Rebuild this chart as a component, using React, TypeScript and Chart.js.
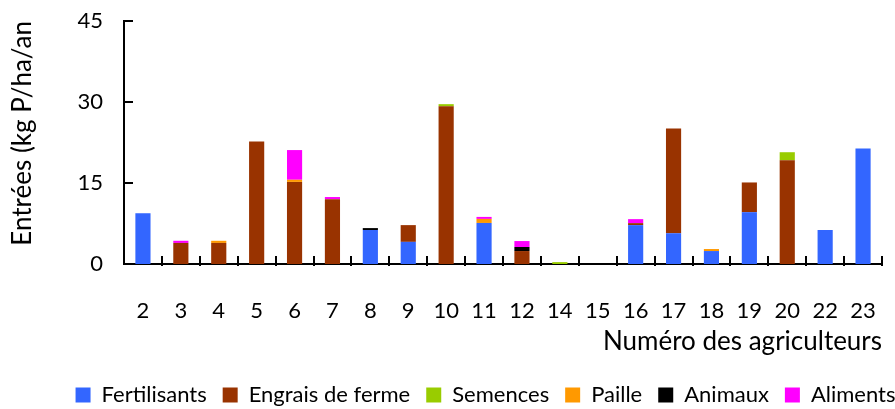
import React, { useEffect, useRef } from "react";
import { Chart, registerables } from "chart.js";

Chart.register(...registerables);

const categories = ["2", "3", "4", "5", "6", "7", "8", "9", "10", "11", "12", "14", "15", "16", "17", "18", "19", "20", "22", "23"];
const fertilisants = [9.4, 0, 0, 0, 0, 0, 6.3, 4.1, 0, 7.6, 0, 0, 0, 7.2, 5.7, 2.4, 9.6, 0, 6.3, 21.4];
const engrais = [0, 3.9, 3.9, 22.7, 15.2, 12.0, 0, 3.1, 29.2, 0, 2.4, 0, 0, 0.37, 19.4, 0, 5.5, 19.2, 0, 0];
const semences = [0, 0, 0, 0, 0, 0, 0, 0, 0.4, 0, 0, 0.35, 0, 0, 0, 0, 0, 1.5, 0, 0];
const paille = [0, 0, 0.4, 0, 0.4, 0, 0, 0, 0, 0.75, 0, 0, 0, 0, 0, 0.37, 0, 0, 0, 0];
const animaux = [0, 0, 0, 0, 0, 0, 0.35, 0, 0, 0, 0.75, 0, 0, 0, 0, 0, 0, 0, 0, 0];
const aliments = [0, 0.4, 0, 0, 5.5, 0.4, 0, 0, 0, 0.37, 1.1, 0, 0, 0.74, 0, 0, 0, 0, 0, 0];
const yMin = 0;
const yMax = 45;
const yStep = 15;

const innerTicks = {
  id: "innerTicks",
  afterDraw(chart: any) {
    const { ctx, scales } = chart;
    const x = scales.x;
    const y = scales.y;
    ctx.save();
    ctx.strokeStyle = "#000";
    ctx.lineWidth = 2;
    y.ticks.forEach((_t: any, i: number) => {
      const py = Math.round(y.getPixelForTick(i));
      ctx.beginPath();
      ctx.moveTo(x.left, py);
      ctx.lineTo(x.left + 9, py);
      ctx.stroke();
    });
    const n = x.ticks.length;
    const w = (x.right - x.left) / n;
    for (let i = 1; i <= n; i++) {
      const px = Math.round(x.left + i * w);
      ctx.beginPath();
      ctx.moveTo(px, y.bottom - 8);
      ctx.lineTo(px, y.bottom + 2);
      ctx.stroke();
    }
    ctx.restore();
  },
};

export default function App() {
  const ref = useRef<HTMLCanvasElement>(null);
  useEffect(() => {
    if (!ref.current) return;
    Chart.defaults.font.family = "Lato";
    Chart.defaults.color = "#000";
    const mk = (label: string, data: number[], color: string) => ({
      label,
      data,
      backgroundColor: color,
      borderWidth: 0,
      barPercentage: 0.4,
      categoryPercentage: 1,
    });
    const chart = new Chart(ref.current, {
      type: "bar",
      data: {
        labels: categories,
        datasets: [
          mk("Fertilisants", fertilisants, "#3366FF"),
          mk("Engrais de ferme", engrais, "#993300"),
          mk("Semences", semences, "#99CC00"),
          mk("Paille", paille, "#FF9900"),
          mk("Animaux", animaux, "#000000"),
          mk("Aliments", aliments, "#FF00FF"),
        ],
      },
      options: {
        animation: false,
        responsive: false,
        maintainAspectRatio: false,
        layout: { padding: { top: 21, left: 54, right: -22, bottom: -7 } },
        plugins: {
          tooltip: { enabled: false },
          legend: {
            position: "bottom",
            align: "center",
            labels: {
              boxWidth: 15,
              boxHeight: 15,
              padding: 16,
              font: { size: 22 },
              color: "#000",
            },
          },
        },
        scales: {
          x: {
            stacked: true,
            grid: { display: false, drawTicks: false },
            border: { display: true, color: "#000", width: 2 },
            ticks: { font: { size: 22 }, padding: 34, maxRotation: 0, autoSkip: false, color: "#000" },
            title: {
              display: true,
              text: "Numéro des agriculteurs",
              align: "end",
              font: { size: 26 },
              padding: { top: 4, bottom: 11 },
              color: "#000",
            },
            afterFit: (s: any) => {
              s.height = 104;
              s.paddingLeft = 0;
              s.paddingRight = 13;
            },
          },
          y: {
            stacked: true,
            min: yMin,
            max: yMax,
            grid: { display: false, drawTicks: false },
            border: { display: true, color: "#000", width: 2 },
            ticks: { stepSize: yStep, font: { size: 22 }, padding: 21, color: "#000" },
            title: {
              display: true,
              text: "Entrées (kg P/ha/an",
              align: "end",
              font: { size: 26 },
              padding: { top: -47, bottom: 4 },
              color: "#000",
            },
            afterFit: (s: any) => {
              s.width = 70;
              s.paddingTop = 0;
              s.paddingBottom = 0;
            },
          },
        },
      },
      plugins: [innerTicks],
    });
    return () => chart.destroy();
  }, []);
  return (
    <div style={{ position: "fixed", left: 0, top: 0, width: 895, height: 409, overflow: "hidden", background: "#fff" }}>
      <canvas ref={ref} width={895} height={409} style={{ display: "block" }} />
    </div>
  );
}
